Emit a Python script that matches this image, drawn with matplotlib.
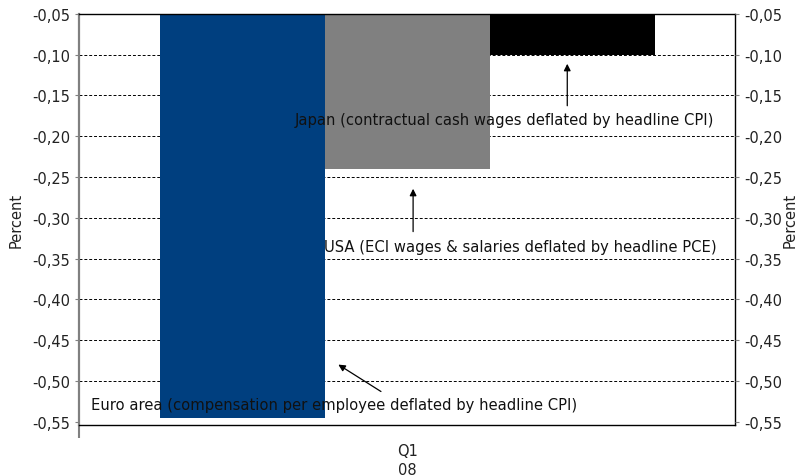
import matplotlib.pyplot as plt
import numpy as np

# real wage growth, Q1 08
categories = ['Q1\n08']
series = ['Euro area', 'USA', 'Japan']
values = [-0.545, -0.24, -0.10]
colors = ['#003f7f', '#808080', '#000000']
labels = ['Euro area (compensation per employee deflated by headline CPI)',
          'USA (ECI wages & salaries deflated by headline PCE)',
          'Japan (contractual cash wages deflated by headline CPI)']
yticks = np.round(np.arange(-0.55, -0.049, 0.05), 2)

plt.rcParams['font.family'] = 'DejaVu Sans'

fig = plt.figure(figsize=(8, 4.77), dpi=100)
ax = fig.add_axes([0.099, 0.107, 0.82, 0.862])

width = 0.2515
x = np.arange(len(categories))
for i, (name, v) in enumerate(zip(series, values)):
    ax.bar(x + (i - 1) * width, [v], width, color=colors[i], zorder=2, label=name)

ax.set_xlim(-0.5, 0.5)
ax.set_ylim(-0.554, -0.05)
ax.set_yticks(yticks)
fmt = [f'{t:.2f}'.replace('.', ',') for t in yticks]
ax.set_yticklabels(fmt, fontsize=10.5, color='#222222')
ax.set_xticks(x)
ax.set_xticklabels(categories, fontsize=10.5, color='#222222', linespacing=1.35)
ax.tick_params(axis='x', length=0, pad=13)
ax.set_xticks([-0.5], minor=True)
ax.tick_params(axis='x', which='minor', length=9, color='#808080', width=1.5)
ax.tick_params(axis='y', length=3, color='#808080')
ax.grid(axis='y', color='black', linestyle=(0, (3, 2)), linewidth=0.7, zorder=0)
ax.get_ygridlines()[0].set_visible(False)
ax.set_ylabel('Percent', fontsize=10.5, color='#222222', labelpad=6)

ax.spines['left'].set_color('#808080')
ax.spines['left'].set_linewidth(1.6)
for s in ['top', 'right', 'bottom']:
    ax.spines[s].set_color('black')
    ax.spines[s].set_linewidth(1.0)

ax2 = ax.twinx()
ax2.set_ylim(ax.get_ylim())
ax2.set_yticks(yticks)
ax2.set_yticklabels(fmt, fontsize=10.5, color='#222222')
ax2.tick_params(axis='y', length=3, color='#808080')
ax2.set_ylabel('Percent', fontsize=10.5, color='#222222', labelpad=0)
for s in ax2.spines.values():
    s.set_visible(False)

# annotations: (text x, text y, arrow tip, arrow tail)
ann = [
    (-0.112, -0.529, (-0.105, -0.480), (-0.040, -0.513)),
    (0.172, -0.3355, (0.009, -0.2645), (0.009, -0.317)),
    (0.148, -0.180, (0.244, -0.1113), (0.244, -0.1627)),
]
for lab, (tx, ty, tip, tail) in zip(labels, ann):
    ax2.text(tx, ty, lab, ha='center', va='center', fontsize=10.6,
             color='#111111', zorder=5)
    ax2.annotate('', xy=tip, xytext=tail,
                 arrowprops=dict(arrowstyle='-|>', color='black', lw=0.9,
                                 mutation_scale=10, shrinkA=0, shrinkB=0))

fig.savefig('out.png', dpi=100)
